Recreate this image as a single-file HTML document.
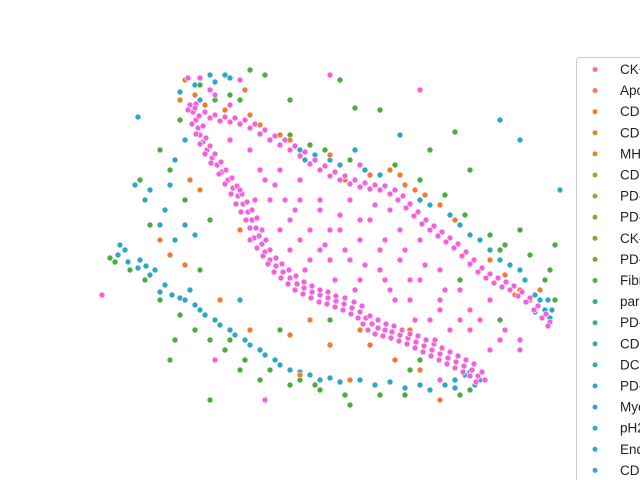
<!DOCTYPE html>
<html><head><meta charset="utf-8"><style>
body{margin:0;background:#fff;width:640px;height:480px;overflow:hidden;font-family:"Liberation Sans","DejaVu Sans",sans-serif}
svg{position:absolute;left:0;top:0}
</style></head><body>
<svg id="chart" width="640" height="480">
<g id="pts"></g>
<g id="legend">
<rect x="576.5" y="57.5" width="80" height="440" rx="3" fill="#fff" stroke="#ccc"/>
</g>
</svg>
<script>
const pinkPts=[[190,105],[193,112],[196,120],[198,128],[200,135],[203,142],[207,150],[212,158],[217,165],[222,172],[228,180],[233,188],[238,196],[243,204],[248,212],[252,220],[256,228],[259,236],[262,244],[265,252],[270,260],[276,266],[283,272],[290,278],[297,284],[304,288],[312,292],[320,295],[328,298],[336,301],[344,304],[352,308],[360,312],[366,318],[372,324],[378,328],[385,330],[392,332],[400,335],[408,338],[416,342],[424,346],[432,350],[440,354],[448,358],[456,362],[464,366],[472,370],[478,376],[485,380],
[196,104],[199,116],[203,126],[206,138],[210,146],[215,154],[221,162],[226,170],[232,178],[237,186],[242,194],[247,202],[252,210],[257,218],[262,230],[266,240],[270,250],[276,258],[282,264],[289,270],[296,276],[304,282],[312,286],[320,290],[328,292],[336,296],[345,298],[354,302],[362,306],[370,316],[378,320],[386,324],[394,326],[402,330],[410,334],[418,336],[426,340],[434,344],[442,348],[450,352],[458,356],[466,360],[474,364],[482,372],
[188,110],[192,124],[196,134],[200,144],[205,154],[211,163],[219,174],[225,184],[231,194],[236,204],[241,212],[246,220],[250,228],[254,238],[257,248],[263,256],[268,264],[274,272],[281,278],[288,284],[295,290],[303,294],[311,298],[319,302],[327,304],[335,307],[343,310],[351,314],[358,318],[363,324],[368,330],[375,334],[383,336],[391,338],[399,341],[407,344],[415,348],[423,352],[431,356],[439,360],[447,364],[455,368],[463,372],[470,376],[476,382],
[195,108],[205,112],[215,115],[225,117],[235,118],[245,120],[255,124],[265,130],[275,136],[285,140],[295,146],[305,152],[315,160],[325,166],[335,172],[345,176],[355,180],[365,183],[375,185],[385,186],[395,190],[403,196],[410,204],[418,212],[426,220],[434,226],[442,232],[450,238],[458,244],[466,252],[474,260],[482,268],[490,274],[498,278],[506,282],[514,286],[522,292],[530,298],[538,306],[546,314],[550,322],
[210,118],[220,121],[230,122],[240,124],[250,128],[260,134],[270,140],[280,145],[290,150],[300,156],[310,164],[320,170],[330,176],[340,180],[350,184],[360,187],[370,189],[380,190],[390,194],[398,200],[406,208],[414,216],[422,224],[430,230],[438,236],[446,242],[454,248],[462,256],[470,264],[478,272],[486,278],[494,283],[502,287],[510,290],[518,296],[526,302],[534,310],[542,318],[548,326],
[250,150],[280,170],[300,200],[320,210],[340,230],[360,240],[380,250],[400,260],[420,280],[440,300],[300,240],[330,260],[360,280],[390,290],[410,300],[270,200],[290,220],[350,200],[370,220],[420,240],[460,290],[480,320],[500,340],[230,140],[300,180],[330,230],[240,190],[310,260],[440,270],[400,230],[380,270],[350,260],[460,320],[188,78],[210,90],[440,380],[102,295],[330,75],[420,90],[520,350],[265,400],[360,220],[320,250],[430,320],[215,360],[390,210],[490,300],[250,240],[285,200],
[260,170],[275,185],[295,210],[310,230],[325,245],[345,250],[365,265],[385,240],[405,250],[425,265],[445,290],[470,310],[355,290],[395,300],[415,320],[435,340],[290,250],[305,270],[280,230],[265,180],[255,200],[375,205],[340,215],[410,280],[450,330],[490,350],[505,330],[520,340],[470,330],[440,310],[385,280],[335,280],[320,200],[360,165],[230,105],[240,80],[200,78],[215,95]];
const greenPts=[[110,258],[130,270],[170,360],[210,400],[230,340],[260,380],[300,380],[350,405],[380,395],[420,360],[440,400],[500,320],[520,230],[550,270],[470,170],[430,150],[380,110],[340,80],[290,100],[250,70],[230,95],[180,120],[160,150],[140,180],[200,270],[210,220],[460,280],[500,250],[530,300],[175,340],[280,330],[330,320],[410,370],[470,390],[265,75],[355,108],[455,132],[555,245],[240,370],[315,385],
[115,262],[145,280],[160,300],[180,315],[195,330],[210,340],[225,350],[245,360],[270,370],[290,385],[320,390],[345,395],[405,395],[460,395],[290,135],[310,145],[325,150],[350,160],[395,165],[420,180],[445,195],[465,215],[490,235],[505,245],[530,255],[545,280],[555,300],[200,85],[215,100],[240,100],[185,200],[170,170],[150,225]];
const cyanPts=[[120,245],[140,260],[155,270],[165,285],[180,298],[200,310],[215,320],[230,330],[245,340],[260,350],[275,360],[290,370],[310,375],[330,378],[360,380],[390,382],[420,385],[445,385],[465,375],[480,380],[135,185],[150,190],[165,210],[185,225],[210,75],[225,75],[305,160],[330,160],[355,150],[420,200],[450,215],[480,240],[500,260],[520,270],[540,300],[545,310],[550,318],[500,120],[520,140],[190,290],[240,300],[400,135],[560,190],[138,117],[180,92],[125,250],[146,266],[455,380],[470,372],[535,312],
[118,255],[128,262],[138,268],[150,275],[160,292],[172,295],[185,300],[195,305],[205,315],[220,325],[235,335],[250,345],[265,355],[280,365],[300,372],[320,380],[340,382],[375,385],[405,388],[430,390],[455,388],[475,385],[300,150],[315,155],[340,165],[365,170],[380,175],[430,205],[460,225],[470,235],[490,250],[510,265],[525,280],[535,295],[548,300],[552,310],[145,200],[160,225],[175,240],[195,235],[215,82],[230,78],[195,85],[200,100],[185,140],[175,160],[170,185]];
const orangePts=[[185,80],[180,100],[190,180],[260,125],[290,140],[345,180],[400,175],[415,190],[440,205],[470,265],[520,290],[530,300],[540,290],[310,320],[360,330],[350,380],[410,330],[200,190],[240,230],[440,400],[300,375],[245,90],[390,170],
[195,95],[205,105],[225,110],[250,115],[280,135],[330,155],[370,175],[405,185],[425,195],[455,220],[490,260],[505,275],[515,295],[160,240],[170,255],[185,265],[220,300],[250,330],[290,335],[330,345],[370,345],[395,360],[420,370]];
const legendLabels=["CK+ cells","Apoptotic","CD4 T","CD8 T","MHC-II+","CD68+","PD-L1+","PD-1+","CK- cells","PD-L2+","Fibroblast","parenchyma","PD-1 T","CD20 B","DC cells","PD-L1 M","Myeloid","pH2AX+","Endothelial","CD31+"];
const legendColors=["#f7718c","#f7755a","#f07b33","#e3842f","#cf8d32","#bb9632","#a99e32","#98a332","#86a833","#6fad33","#4cb038","#36b079","#36ad90","#37ab9d","#38aaa8","#39a8b2","#3aa6bd","#3ba4c7","#3da1d2","#3f9ddd"];
const groups=[{pts:cyanPts,c:"#2ea7c4",n:"cyan"},{pts:greenPts,c:"#4aad3d",n:"green"},{pts:orangePts,c:"#f07b33",n:"orange"},{pts:pinkPts,c:"#f262dc",n:"pink"}];
const xScale=v=>100+(v-100)*1.0;
const yScale=v=>60+(v-60)*1.0;
const NS="http://www.w3.org/2000/svg";
const g=document.getElementById('pts');
groups.forEach(gr=>{gr.pts.forEach(p=>{
 const c=document.createElementNS(NS,'circle');
 c.setAttribute('cx',xScale(p[0]));c.setAttribute('cy',yScale(p[1]));c.setAttribute('r',3);
 c.setAttribute('fill',gr.c);c.setAttribute('stroke','#fff');c.setAttribute('stroke-width',0.6);
 
 
 g.appendChild(c);});});
const lg=document.getElementById('legend');
legendLabels.forEach((l,i)=>{
 const y=69.5+i*21.1;
 const c=document.createElementNS(NS,'circle');
 c.setAttribute('cx',595);c.setAttribute('cy',y);c.setAttribute('r',2.5);c.setAttribute('fill',legendColors[i]);
 
 
 lg.appendChild(c);
 const t=document.createElementNS(NS,'text');
 t.setAttribute('x',620);t.setAttribute('y',y+4.5);t.setAttribute('font-size',13.5);t.setAttribute('fill','#222');
 t.textContent=l;
 
 
 lg.appendChild(t);
});
</script>
</body></html>
